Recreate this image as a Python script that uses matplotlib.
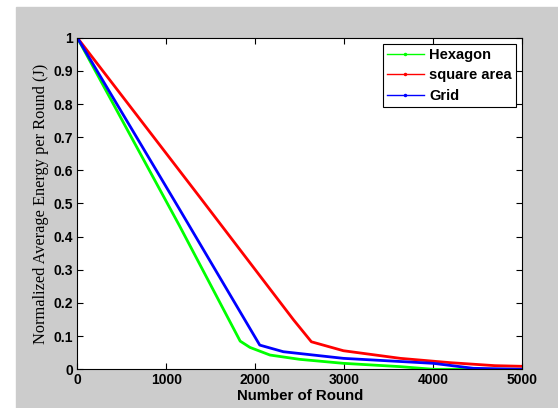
import matplotlib.pyplot as plt
from matplotlib.lines import Line2D
from matplotlib.patches import Rectangle

hex_rounds = [0, 1150, 1830, 1940, 2165, 2500, 2990, 3630, 4000, 5000]
hex_energy = [1, 0.432, 0.085, 0.066, 0.043, 0.030, 0.018, 0.008, 0.0, 0.0]

square_rounds = [0, 1380, 2430, 2630, 2990, 3630, 4190, 4690, 5000]
square_energy = [1, 0.518, 0.149, 0.083, 0.056, 0.033, 0.020, 0.011, 0.009]

grid_rounds = [0, 1150, 2050, 2315, 2990, 4000, 4450, 5000]
grid_energy = [1, 0.482, 0.073, 0.053, 0.033, 0.018, 0.003, 0.0]

x_ticks = [0, 1000, 2000, 3000, 4000, 5000]
y_ticks = [0, 0.1, 0.2, 0.3, 0.4, 0.5, 0.6, 0.7, 0.8, 0.9, 1]
y_tick_labels = ['0', '0.1', '0.2', '0.3', '0.4', '0.5', '0.6', '0.7', '0.8', '0.9', '1']

W, H = 558, 408
fig = plt.figure(figsize=(W / 100, H / 100), dpi=100)
fig.patch.set_facecolor('white')
bg = Rectangle((16 / W, 0), 1 - 16 / W, 1 - 7 / H,
               transform=fig.transFigure, color='#cccccc', zorder=-10)
fig.add_artist(bg)

ax = fig.add_axes([77.3 / W, (H - 369.3) / H, 445 / W, 331.6 / H])
ax.set_zorder(1)
ax.set_facecolor('white')

ax.plot(hex_rounds, hex_energy, color='#00ff00', lw=2)
ax.plot(square_rounds, square_energy, color='#ff0000', lw=2)
ax.plot(grid_rounds, grid_energy, color='#0000ff', lw=2)

ax.set_xlim(0, 5000)
ax.set_ylim(0, 1)
ax.set_xticks(x_ticks)
ax.set_xticklabels([str(t) for t in x_ticks])
ax.set_yticks(y_ticks)
ax.set_yticklabels(y_tick_labels)
ax.tick_params(direction='in', length=4, width=0.8, top=True, right=True,
               labelsize=10, pad=3)
for lab in ax.get_xticklabels() + ax.get_yticklabels():
    lab.set_fontweight('bold')
    lab.set_family('Liberation Sans')
for s in ax.spines.values():
    s.set_linewidth(0.8)

ax.set_xlabel('Number of Round', fontsize=10.8, fontweight='bold',
              family='Liberation Sans', labelpad=1)
ax.set_ylabel('Normalized Average Energy per Round (J)', fontsize=11.8,
              family='Liberation Serif', labelpad=3)

handles = [
    Line2D([], [], color='#00ff00', lw=1, marker='.', markersize=3),
    Line2D([], [], color='#ff0000', lw=1, marker='.', markersize=3),
    Line2D([], [], color='#0000ff', lw=1, marker='.', markersize=3),
]
leg = ax.legend(handles, ['Hexagon', 'square area', 'Grid'], loc='upper right',
                fancybox=False, framealpha=1, edgecolor='black', handlelength=2.5,
                borderaxespad=0.4, borderpad=0.3, labelspacing=0.45, handletextpad=0.4,
                prop={'family': 'Liberation Sans', 'weight': 'bold', 'size': 10.5})
leg.get_frame().set_linewidth(0.8)

fig.savefig('out.png', dpi=100)
